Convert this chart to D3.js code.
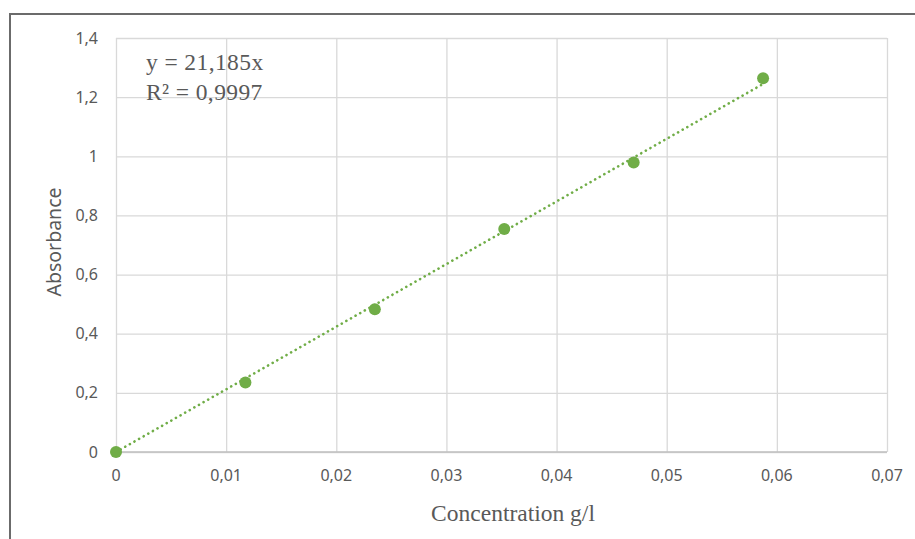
<!DOCTYPE html>
<html>
<head>
<meta charset="utf-8">
<script src="https://cdn.jsdelivr.net/npm/d3@7"></script>
<style>
  body { margin: 0; background: #fff; }
  svg { display: block; }
</style>
</head>
<body>
<div id="chart"></div>
<script>
// measured points
const concentration = [0, 0.01175, 0.0235, 0.03525, 0.047, 0.05875];
const absorbance = [0, 0.235, 0.483, 0.754, 0.979, 1.264];
const slope = 21.185;
const xTicks = [0, 0.01, 0.02, 0.03, 0.04, 0.05, 0.06, 0.07];
const yTicks = [0, 0.2, 0.4, 0.6, 0.8, 1, 1.2, 1.4];
const equationLines = ['y = 21,185x', 'R² = 0,9997'];

const width = 915, height = 539;
const margin = { top: 38, right: 28, bottom: 87, left: 116 };
const green = '#70ad47';
const textColor = '#595959';

const svg = d3.select('#chart').append('svg')
  .attr('width', width)
  .attr('height', height);

// outer frame (cut off on right / bottom)
svg.append('rect')
  .attr('x', 10).attr('y', 14)
  .attr('width', width + 20).attr('height', height + 20)
  .attr('fill', 'none')
  .attr('stroke', '#6b6b6b')
  .attr('stroke-width', 2);

const x = d3.scaleLinear()
  .domain([0, 0.07])
  .range([margin.left, width - margin.right]);

const y = d3.scaleLinear()
  .domain([0, 1.4])
  .range([height - margin.bottom, margin.top]);

const fmt = d => d3.format('~g')(d).replace('.', ',');

// grid
svg.append('g')
  .attr('transform', 'translate(0,' + y(0) + ')')
  .call(d3.axisBottom(x).tickValues(xTicks).tickSize(-(y(0) - y(1.4))).tickFormat(''))
  .call(g => g.select('.domain').remove())
  .call(g => g.selectAll('line').attr('stroke', '#d9d9d9').attr('stroke-width', 1.3));

svg.append('g')
  .attr('transform', 'translate(' + x(0) + ',0)')
  .call(d3.axisLeft(y).tickValues(yTicks).tickSize(-(x(0.07) - x(0))).tickFormat(''))
  .call(g => g.select('.domain').remove())
  .call(g => g.selectAll('line').attr('stroke', '#d9d9d9').attr('stroke-width', 1.3));

// bottom axis line
svg.append('line')
  .attr('x1', x(0)).attr('x2', x(0.07))
  .attr('y1', y(0)).attr('y2', y(0))
  .attr('stroke', '#bfbfbf')
  .attr('stroke-width', 1.3);

// tick labels
svg.append('g').selectAll('text')
  .data(xTicks)
  .enter().append('text')
  .attr('x', d => x(d))
  .attr('y', y(0) + 29)
  .attr('text-anchor', 'middle')
  .attr('font-family', 'Noto Sans, sans-serif')
  .attr('font-size', 16)
  .attr('fill', textColor)
  .text(fmt);

svg.append('g').selectAll('text')
  .data(yTicks)
  .enter().append('text')
  .attr('x', x(0) - 18)
  .attr('y', d => y(d))
  .attr('dy', '0.35em')
  .attr('text-anchor', 'end')
  .attr('font-family', 'Noto Sans, sans-serif')
  .attr('font-size', 16)
  .attr('fill', textColor)
  .text(fmt);

// axis titles
svg.append('text')
  .attr('transform', 'translate(61,' + ((y(0) + y(1.4)) / 2 - 3) + ') rotate(-90)')
  .attr('text-anchor', 'middle')
  .attr('font-family', 'Noto Sans, sans-serif')
  .attr('font-size', 19.5)
  .attr('fill', textColor)
  .text('Absorbance');

svg.append('text')
  .attr('x', 513)
  .attr('y', 521)
  .attr('text-anchor', 'middle')
  .attr('font-family', 'Liberation Serif, serif')
  .attr('font-size', 23.5)
  .attr('fill', textColor)
  .text('Concentration g/l');

// trendline
const xMax = d3.max(concentration);
svg.append('line')
  .attr('x1', x(0)).attr('y1', y(0))
  .attr('x2', x(xMax)).attr('y2', y(slope * xMax))
  .attr('stroke', green)
  .attr('stroke-width', 2.6)
  .attr('stroke-linecap', 'round')
  .attr('stroke-dasharray', '0.1 5.2');

// points
svg.append('g').selectAll('circle')
  .data(concentration.map((c, i) => ({ c: c, a: absorbance[i] })))
  .enter().append('circle')
  .attr('cx', d => x(d.c))
  .attr('cy', d => y(d.a))
  .attr('r', 6)
  .attr('fill', green);

// equation label
svg.append('g').selectAll('text')
  .data(equationLines)
  .enter().append('text')
  .attr('x', 146)
  .attr('y', (d, i) => 70 + i * 30)
  .attr('font-family', 'Liberation Serif, serif')
  .attr('font-size', 23.5)
  .attr('fill', textColor)
  .attr('letter-spacing', 0.4)
  .text(d => d);
</script>
</body>
</html>
